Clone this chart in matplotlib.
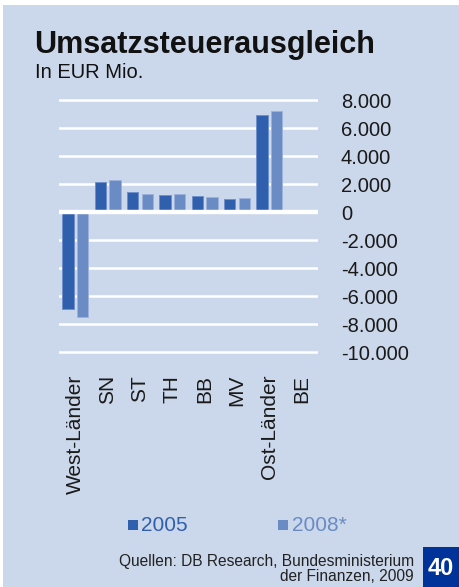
import matplotlib
matplotlib.use("Agg")
import matplotlib.pyplot as plt
import numpy as np
from matplotlib.patches import Rectangle
from matplotlib.ticker import FuncFormatter

plt.rcParams["font.family"] = ["Liberation Sans", "DejaVu Sans"]

categories = ["West-Länder", "SN", "ST", "TH", "BB", "MV", "Ost-Länder", "BE"]
values_2005 = [-6900, 2150, 1400, 1200, 1150, 900, 6900, 0]
values_2008 = [-7500, 2300, 1300, 1300, 1100, 1000, 7200, 150]
series_labels = ["2005", "2008*"]
yticks = [8000, 6000, 4000, 2000, 0, -2000, -4000, -6000, -8000, -10000]
source_lines = ["Quellen: DB Research, Bundesministerium", "der Finanzen, 2009"]

W, H = 459, 587
BG = "#cbd7ea"
DARK = "#2f5fad"
LIGHT = "#6a8bc4"


def px(x, y):
    return x / W, 1 - y / H


fig = plt.figure(figsize=(W / 100, H / 100), dpi=100)
fig.patch.set_facecolor("white")
fig.patches.append(Rectangle(px(3, H), (W - 3) / W, (H - 5) / H,
                             transform=fig.transFigure, facecolor=BG,
                             edgecolor="none", zorder=-10))

# axes: 8.000 at y=100, -10.000 at y=352, ylim padded by 400
ylo, yhi = -10400, 8400
scale = (352 - 100) / 18000
top = 100 - (yhi - 8000) * scale
bot = 352 + (-10000 - ylo) * scale
ax = fig.add_axes([59 / W, 1 - bot / H, (318 - 59) / W, (bot - top) / H])
ax.set_facecolor("none")
ax.set_xlim(-0.5, len(categories) - 0.5)
ax.set_ylim(ylo, yhi)

for t in yticks:
    ax.axhline(t, color="white", lw=3.2 if t == 0 else 1.8, zorder=1 if t else 3)

x = np.arange(len(categories))
w = 0.35
ax.bar(x - 0.225, values_2005, w, color=DARK, edgecolor="#6f90cc", lw=0.7, zorder=2)
ax.bar(x + 0.225, values_2008, w, color=LIGHT, edgecolor="#9db3db", lw=0.7, zorder=2)

for s in ax.spines.values():
    s.set_visible(False)
ax.yaxis.tick_right()
ax.set_yticks(yticks)
ax.yaxis.set_major_formatter(FuncFormatter(lambda v, _: f"{int(v):,}".replace(",", ".")))
ax.tick_params(axis="y", length=0, pad=16.5, labelsize=14.5, labelcolor="#1a1a1a")
ax.set_xticks(x)
ax.set_xticklabels(categories, rotation=90, va="top", ha="center")
ax.tick_params(axis="x", length=0, pad=12.5, labelsize=15, labelcolor="#1a1a1a")

fig.text(*px(34, 53), "Umsatzsteuerausgleich", fontsize=22, fontweight="bold",
         color="#111111", va="baseline")
fig.text(*px(35, 78), "In EUR Mio.", fontsize=14.5, color="#111111", va="baseline")

# legend
for lx, col, lab in [(127.5, DARK, series_labels[0]), (278, LIGHT, series_labels[1])]:
    fig.patches.append(Rectangle(px(lx, 530), 10 / W, 10 / H,
                                 transform=fig.transFigure, facecolor=col, edgecolor="none"))
    fig.text(*px(lx + 14, 531), lab, fontsize=15, color=col, va="baseline")

for i, line in enumerate(source_lines):
    fig.text(*px(414, 566 + 15 * i), line, fontsize=11.2, color="#222222",
             ha="right", va="baseline")

fig.patches.append(Rectangle(px(422.5, H), (W - 422.5) / W, 40 / H,
                             transform=fig.transFigure, facecolor="#003399", edgecolor="none"))
fig.text(*px(441, 575), "40", fontsize=17, fontweight="bold", color="white",
         ha="center", va="baseline")

fig.savefig("out.png", dpi=100, facecolor=fig.get_facecolor())
